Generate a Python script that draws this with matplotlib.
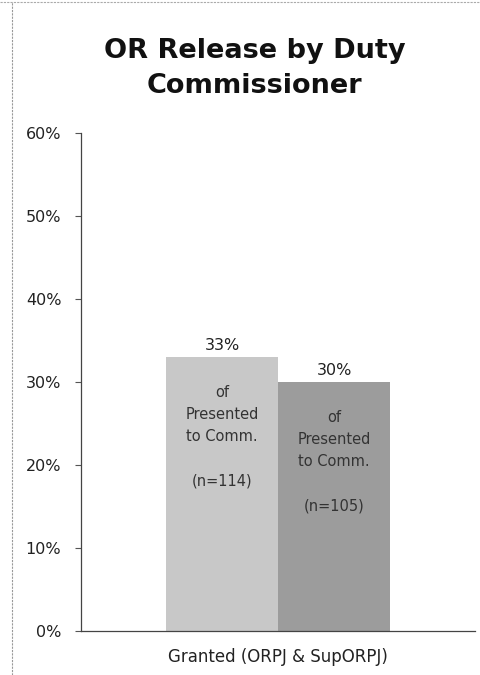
import matplotlib.pyplot as plt
import numpy as np

category = "Granted (ORPJ & SupORPJ)"
series_values = [0.33, 0.30]
value_labels = ["33%", "30%"]
counts = [114, 105]
yticks = [0.0, 0.1, 0.2, 0.3, 0.4, 0.5, 0.6]
ytick_labels = ["0%", "10%", "20%", "30%", "40%", "50%", "60%"]

bar_colors = ["#c8c8c8", "#9c9c9c"]

fig = plt.figure(figsize=(4.81, 6.75), dpi=100)
ax = fig.add_axes([0.168, 0.065, 0.82, 0.738])

width = 0.284
xs = np.array([-width / 2, width / 2])
bars = ax.bar(xs, series_values, width=width, color=bar_colors, edgecolor="none")

for b, lab, n in zip(bars, value_labels, counts):
    cx = b.get_x() + b.get_width() / 2
    top = b.get_height()
    ax.annotate(lab, (cx, top), xytext=(0, 3), textcoords="offset points",
                ha="center", va="bottom", fontsize=11.5, color="#222222")
    ax.annotate("of\nPresented\nto Comm.\n\n(n=%d)" % n, (cx, top),
                xytext=(0, -20), textcoords="offset points",
                ha="center", va="top", fontsize=10.5, color="#333333",
                linespacing=1.6)

ax.set_xlim(-0.5, 0.5)
ax.set_ylim(0, 0.6)
ax.set_yticks(yticks)
ax.set_yticklabels(ytick_labels, fontsize=11.5, color="#222222")
ax.set_xticks([0])
ax.set_xticklabels([category], fontsize=12, color="#222222")
ax.tick_params(axis="x", length=0, pad=12)
ax.tick_params(axis="y", length=4, width=0.8, color="#555555", pad=10)

for s in ["top", "right"]:
    ax.spines[s].set_visible(False)
for s in ["left", "bottom"]:
    ax.spines[s].set_color("#444444")
    ax.spines[s].set_linewidth(0.9)

fig.text(0.53, 0.899, "OR Release by Duty\nCommissioner", ha="center", va="center",
         fontsize=19.5, fontweight="bold", color="#111111", linespacing=1.45)

# scanned frame edges
fig.add_artist(plt.Line2D([0.025, 0.025], [0, 0.997], color="#999999", lw=0.8, ls=(0, (2, 1))))
fig.add_artist(plt.Line2D([0.0, 1.0], [0.997, 0.997], color="#aaaaaa", lw=0.8, ls=(0, (2, 1))))

fig.savefig("out.png", dpi=100)
